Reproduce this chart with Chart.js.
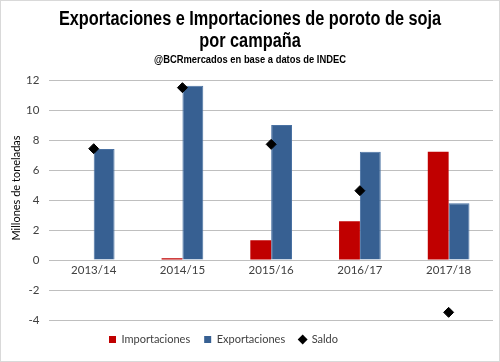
<!DOCTYPE html>
<html><head><meta charset="utf-8">
<script src="https://cdn.jsdelivr.net/npm/chart.js@4"></script>
<style>
html,body{margin:0;padding:0;background:#fff;}
#wrap{position:relative;width:498px;height:360px;border:1px solid #d9d9d9;}
</style></head>
<body><div id="wrap"><canvas id="c" width="498" height="360"></canvas></div>
<script>
const categories = ["2013/14","2014/15","2015/16","2016/17","2017/18"];
const importaciones = [0, 0.11, 1.31, 2.58, 7.22];
const exportaciones = [7.40, 11.62, 9.00, 7.22, 3.78];
const saldo = [7.42, 11.49, 7.71, 4.62, -3.49];
const yTicks = [-4,-2,0,2,4,6,8,10,12];
const titleLines = ['Exportaciones e Importaciones de poroto de soja','por campaña'];
const subtitleText = '@BCRmercados en base a datos de INDEC';
const yAxisTitle = 'Millones de toneladas';

const titleFont = '"Liberation Sans", Arial, sans-serif';
const bodyFont = 'Lato, "Open Sans", sans-serif';

const narrowTitle = {
  id:'narrowTitle',
  afterUpdate(chart){
    if (chart.legend) { chart.legend.left -= 31; chart.legend.right -= 31; }
  },
  afterDraw(chart){
    const ctx = chart.ctx, cx = chart.width/2;
    ctx.save();
    ctx.fillStyle = '#000';
    ctx.textAlign = 'center';
    ctx.textBaseline = 'alphabetic';
    const sx = 0.815;
    ctx.translate(cx, 0);
    ctx.scale(sx, 1);
    ctx.font = 'bold 20px ' + titleFont;
    ctx.fillText(titleLines[0], 0, 24);
    ctx.fillText(titleLines[1], 0, 46);
    ctx.font = 'bold 11.5px ' + titleFont;
    ctx.fillText(subtitleText, 0, 62);
    ctx.restore();
    ctx.save();
    ctx.translate(15, 187);
    ctx.rotate(-Math.PI/2);
    ctx.textAlign = 'center';
    ctx.textBaseline = 'middle';
    ctx.fillStyle = '#000';
    ctx.font = '11px ' + bodyFont;
    ctx.fillText(yAxisTitle, 0, 0);
    ctx.restore();
  }
};

new Chart(document.getElementById('c'), {
  data: {
    labels: categories,
    datasets: [
      {type:'bar', label:'Importaciones', data: importaciones, backgroundColor:'#C00000', categoryPercentage:0.47, barPercentage:1, order:2},
      {type:'bar', label:'Exportaciones', data: exportaciones, backgroundColor:'#376092', borderColor:'#4a72a3', borderWidth:1, categoryPercentage:0.47, barPercentage:1, order:2},
      {type:'line', label:'Saldo', data: saldo, showLine:false, pointStyle:'rectRot', pointRadius:5, pointHoverRadius:5, backgroundColor:'#000', borderColor:'#000', order:1}
    ]
  },
  plugins:[narrowTitle],
  options: {
    responsive:false, animation:false,
    layout:{padding:{left:15,right:6,top:79,bottom:6}},
    plugins:{
      title:{display:false},
      legend:{position:'bottom', labels:{usePointStyle:true, boxWidth:7, boxHeight:7, font:{family:bodyFont, size:11}, color:'#404040', padding:14,
        generateLabels(chart){
          const d = chart.data.datasets;
          return [
            {text:d[0].label, fillStyle:'#C00000', strokeStyle:'#C00000', lineWidth:0, pointStyle:'rect', datasetIndex:0, fontColor:'#404040'},
            {text:d[1].label, fillStyle:'#376092', strokeStyle:'#376092', lineWidth:0, pointStyle:'rect', datasetIndex:1, fontColor:'#404040'},
            {text:d[2].label, fillStyle:'#000', strokeStyle:'#000', lineWidth:0, pointStyle:'rectRot', datasetIndex:2, fontColor:'#404040'}
          ];
        }}},
      tooltip:{enabled:false}
    },
    scales:{
      x:{position:{y:0}, grid:{display:false, drawTicks:false}, border:{display:false}, ticks:{font:{family:bodyFont,size:11.5}, color:'#404040', padding:3}},
      y:{min:-4, max:12, afterBuildTicks(s){ s.ticks=[]; for(let v=-4; v<=12; v++) s.ticks.push({value:v}); },
        ticks:{font:{family:bodyFont,size:11.5}, color:'#404040', padding:10, callback:(v)=> yTicks.includes(v)? String(v):''},
        grid:{color:(ctx)=> (ctx.tick && ctx.tick.value%2===0)? '#bfbfbf':'#e3e3e3', drawTicks:false, lineWidth:1},
        border:{display:false},
        title:{display:false}}
    }
  }
});
</script></body></html>
